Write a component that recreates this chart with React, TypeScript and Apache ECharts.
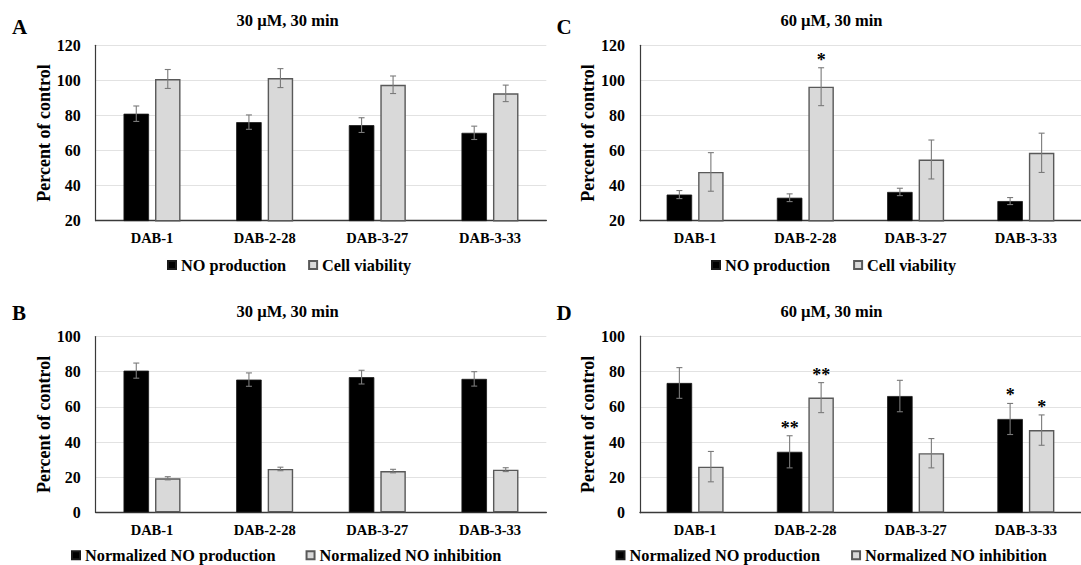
import React, { useEffect, useRef } from "react";
import * as echarts from "echarts";

// ---------- data ----------
const CATEGORIES = ["DAB-1", "DAB-2-28", "DAB-3-27", "DAB-3-33"];

// Panel A (30 µM, 30 min)
const A_NO = [81.0, 76.2, 74.5, 70.1];
const A_NO_ERR = [4.4, 4.1, 4.2, 3.8];
const A_CV = [100.8, 101.3, 97.5, 92.6];
const A_CV_ERR = [5.4, 5.4, 5.0, 4.7];

// Panel C (60 µM, 30 min)
const C_NO = [34.9, 33.1, 36.4, 31.2];
const C_NO_ERR = [2.3, 2.2, 2.1, 2.0];
const C_CV = [47.8, 96.4, 54.9, 58.7];
const C_CV_ERR = [11.0, 10.8, 11.1, 11.2];
const C_CV_SIG = ["", "*", "", ""];

// Panel B (30 µM, 30 min)
const B_NP = [80.6, 75.5, 76.9, 75.9];
const B_NP_ERR = [4.3, 3.8, 3.9, 4.1];
const B_NI = [19.4, 24.7, 23.5, 24.3];
const B_NI_ERR = [0.9, 1.0, 1.0, 1.1];

// Panel D (60 µM, 30 min)
const D_NP = [73.5, 34.5, 66.1, 53.1];
const D_NP_ERR = [8.7, 9.1, 8.9, 8.8];
const D_NI = [26.1, 65.2, 33.7, 46.8];
const D_NI_ERR = [8.6, 8.5, 8.3, 8.6];
const D_NP_SIG = ["", "**", "", "*"];
const D_NI_SIG = ["", "**", "", "*"];

const NONE = ["", "", "", ""];

const FONT = '"Liberation Serif", "Times New Roman", serif';
const BAR_W = 25.5;
const GAP = 6;
const OFF = (BAR_W + GAP) / 2;

export default function App() {
  const ref = useRef<HTMLDivElement>(null);

  useEffect(() => {
    if (!ref.current) return;
    const chart = echarts.init(ref.current, undefined, { renderer: "svg" });

    const grids = [
      { left: 95.7, top: 45.3, width: 450.6, height: 175.4 }, // A
      { left: 640, top: 45.3, width: 451, height: 175.4 }, // C
      { left: 95.7, top: 336.5, width: 450.6, height: 175.9 }, // B
      { left: 640, top: 336.2, width: 451, height: 176.5 }, // D
    ];
    const yRanges = [
      [20, 120],
      [20, 120],
      [0, 100],
      [0, 100],
    ];

    const xAxes = grids.map((_, i) => ({
      type: "category",
      gridIndex: i,
      data: CATEGORIES,
      axisTick: { show: false },
      axisLine: { show: true, lineStyle: { color: "#3a3a3a", width: 1.4 } },
      axisLabel: {
        margin: 10,
        color: "#000",
        fontFamily: FONT,
        fontWeight: "bold",
        fontSize: 14.5,
      },
    }));

    const yAxes = grids.map((_, i) => ({
      type: "value",
      gridIndex: i,
      min: yRanges[i][0],
      max: yRanges[i][1],
      interval: 20,
      name: "Percent of control",
      nameLocation: "middle",
      nameGap: 41,
      nameTextStyle: {
        color: "#000",
        fontFamily: FONT,
        fontWeight: "bold",
        fontSize: 18,
      },
      axisTick: { show: false },
      axisLine: { show: true, lineStyle: { color: "#3a3a3a", width: 1.2 } },
      splitLine: { show: true, lineStyle: { color: "#e2e2e2", width: 1.2 } },
      axisLabel: {
        margin: 15,
        color: "#000",
        fontFamily: FONT,
        fontWeight: "bold",
        fontSize: 16,
      },
    }));

    const barSeries = (name: string, idx: number, vals: number[], dark: boolean) => ({
      type: "bar",
      name,
      xAxisIndex: idx,
      yAxisIndex: idx,
      data: vals,
      barWidth: BAR_W,
      barGap: (GAP / BAR_W) * 100 + "%",
      itemStyle: dark
        ? { color: "#000000", borderColor: "#1a1a1a", borderWidth: 0.8 }
        : { color: "#d9d9d9", borderColor: "#595959", borderWidth: 1.4 },
      silent: true,
      z: 2,
    });

    const errSeries = (
      idx: number,
      vals: number[],
      errs: number[],
      sigs: string[],
      offset: number
    ) => ({
      type: "custom",
      xAxisIndex: idx,
      yAxisIndex: idx,
      silent: true,
      z: 10,
      clip: false,
      encode: { x: 0, y: 1 },
      data: vals.map((v, i) => [i, v, errs[i]]),
      renderItem: (params: any, api: any) => {
        const cat = api.value(0);
        const v = api.value(1);
        const e = api.value(2);
        const top = api.coord([cat, v + e]);
        const bot = api.coord([cat, v - e]);
        const x = top[0] + offset;
        const stroke = { stroke: "#7a7a7a", lineWidth: 1.1 };
        const children: any[] = [
          { type: "line", shape: { x1: x, y1: top[1], x2: x, y2: bot[1] }, style: stroke },
          { type: "line", shape: { x1: x - 3, y1: top[1], x2: x + 3, y2: top[1] }, style: stroke },
          { type: "line", shape: { x1: x - 3, y1: bot[1], x2: x + 3, y2: bot[1] }, style: stroke },
        ];
        const sig = sigs[params.dataIndex];
        if (sig) {
          children.push({
            type: "text",
            style: {
              text: sig,
              x,
              y: top[1] - 8,
              align: "center",
              verticalAlign: "middle",
              fill: "#000",
              fontFamily: FONT,
              fontWeight: "bold",
              fontSize: 18,
            },
          });
        }
        return { type: "group", children };
      },
    });

    const legendBase = {
      orient: "horizontal",
      padding: 0,
      itemWidth: 8,
      itemHeight: 8,
      icon: "rect",
      selectedMode: false,
      textStyle: {
        color: "#000",
        fontFamily: FONT,
        fontWeight: "bold",
        fontSize: 16.3,
        lineHeight: 18,
      },
    };

    const titleStyle = {
      color: "#000",
      fontFamily: FONT,
      fontWeight: "bold",
      fontSize: 16.5,
      lineHeight: 18,
    };
    const letterStyle = {
      color: "#000",
      fontFamily: FONT,
      fontWeight: "bold",
      fontSize: 21,
      lineHeight: 22,
    };

    const option: any = {
      animation: false,
      backgroundColor: "#ffffff",
      title: [
        { text: "30 µM, 30 min", left: 287.6, top: 11.5, textAlign: "center", padding: 0, textStyle: titleStyle },
        { text: "60 µM, 30 min", left: 831.5, top: 11.5, textAlign: "center", padding: 0, textStyle: titleStyle },
        { text: "30 µM, 30 min", left: 287.6, top: 302.5, textAlign: "center", padding: 0, textStyle: titleStyle },
        { text: "60 µM, 30 min", left: 831.5, top: 302.5, textAlign: "center", padding: 0, textStyle: titleStyle },
        { text: "A", left: 12, top: 15.7, padding: 0, textStyle: letterStyle },
        { text: "C", left: 556.5, top: 15.7, padding: 0, textStyle: letterStyle },
        { text: "B", left: 12, top: 302.3, padding: 0, textStyle: letterStyle },
        { text: "D", left: 556.5, top: 302.3, padding: 0, textStyle: letterStyle },
      ],
      legend: [
        { ...legendBase, left: 167, top: 256, itemGap: 22, data: ["NO production", "Cell viability"] },
        { ...legendBase, left: 711, top: 256, itemGap: 23, data: ["NO production", "Cell viability"] },
        { ...legendBase, left: 71, top: 546.3, itemGap: 30, data: ["Normalized NO production", "Normalized NO inhibition"] },
        { ...legendBase, left: 615.5, top: 546.3, itemGap: 31, data: ["Normalized NO production", "Normalized NO inhibition"] },
      ],
      grid: grids,
      xAxis: xAxes,
      yAxis: yAxes,
      series: [
        barSeries("NO production", 0, A_NO, true),
        barSeries("Cell viability", 0, A_CV, false),
        errSeries(0, A_NO, A_NO_ERR, NONE, -OFF),
        errSeries(0, A_CV, A_CV_ERR, NONE, OFF),

        barSeries("NO production", 1, C_NO, true),
        barSeries("Cell viability", 1, C_CV, false),
        errSeries(1, C_NO, C_NO_ERR, NONE, -OFF),
        errSeries(1, C_CV, C_CV_ERR, C_CV_SIG, OFF),

        barSeries("Normalized NO production", 2, B_NP, true),
        barSeries("Normalized NO inhibition", 2, B_NI, false),
        errSeries(2, B_NP, B_NP_ERR, NONE, -OFF),
        errSeries(2, B_NI, B_NI_ERR, NONE, OFF),

        barSeries("Normalized NO production", 3, D_NP, true),
        barSeries("Normalized NO inhibition", 3, D_NI, false),
        errSeries(3, D_NP, D_NP_ERR, D_NP_SIG, -OFF),
        errSeries(3, D_NI, D_NI_ERR, D_NI_SIG, OFF),
      ],
    };

    chart.setOption(option);
    return () => chart.dispose();
  }, []);

  return (
    <div
      ref={ref}
      style={{ position: "absolute", left: 0, top: 0, width: 1081, height: 565, background: "#fff" }}
    />
  );
}
